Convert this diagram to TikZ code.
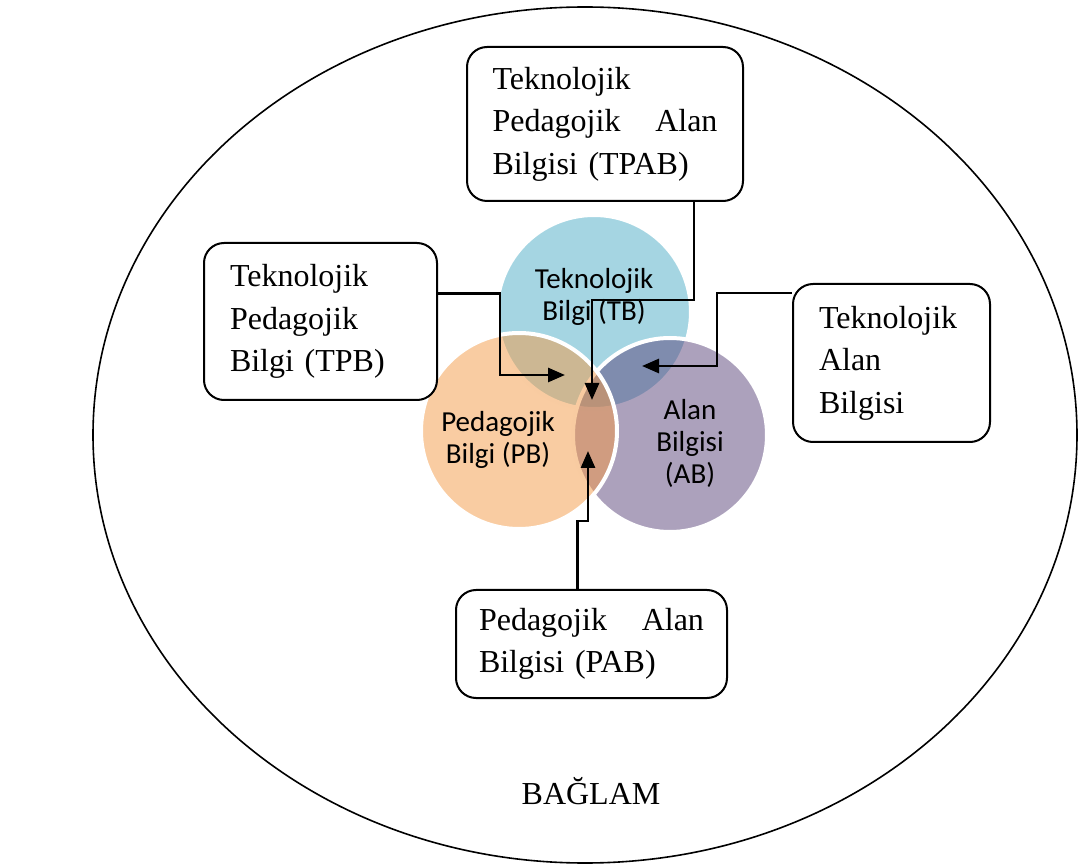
\documentclass[tikz,border=0pt]{standalone}
\usepackage{fontspec}
\setmainfont{Liberation Serif}
\newfontfamily\venfont{Carlito}
\usetikzlibrary{arrows.meta}

\definecolor{tbcol}{RGB}{75,172,198}
\definecolor{abcol}{RGB}{90,68,122}
\definecolor{pbcol}{RGB}{243,153,69}

\begin{document}
\begin{tikzpicture}[x=0.5pt,y=-0.5pt,
   venn/.style={circle,draw=white,line width=2pt,fill opacity=0.5,
    minimum size=97pt,inner sep=0pt},
   lbl/.style={align=center,font=\venfont\fontsize{14.5}{16}\selectfont},
   box/.style={rectangle,rounded corners=10pt,draw,line width=1pt,fill=white,
    align=left,inner sep=0pt,font=\fontsize{16}{21.25}\selectfont},
   conn/.style={line width=1.4pt,-{Triangle[length=8.5pt,width=7pt]}}
   ]
  \useasboundingbox (0,0) rectangle (1078,866);

  % -- context
  \draw[line width=0.8pt] (585,435) ellipse [x radius=246pt,y radius=214pt];

  % -- circles
  \node[venn,fill=tbcol] at (594,312) (tb) {};
  \node[venn,fill=abcol] at (670,435) (ab) {};
  \node[venn,fill=pbcol,minimum size=98pt] at (519,431) (pb) {};

  % -- circle labels
  \node[lbl] at (594,297) (tbtext) {Teknolojik\\Bilgi (TB)};
  \node[lbl] at (498,440) (pbtext) {Pedagojik\\Bilgi (PB)};
  \node[lbl] at (690,443) (abtext) {Alan\\Bilgisi\\(AB)};

  % -- boxes
  \node[box,minimum width=138pt,minimum height=77pt,text width=112.5pt] at (605,124) (tpab)
    {Teknolojik\\ Pedagojik\hfill Alan\\ Bilgisi (TPAB)};
  \node[box,minimum width=116.5pt,minimum height=78.5pt,text width=90.5pt] at (320.5,321.5) (tpb)
    {Teknolojik\\ Pedagojik\\ Bilgi (TPB)};
  \node[box,minimum width=98.5pt,minimum height=79pt,text width=72.5pt] at (891.5,363) (ta)
    {Teknolojik\\ Alan\\ Bilgisi};
  \node[box,minimum width=135.5pt,minimum height=54pt,text width=112.5pt] at (591.5,644) (pab)
    {Pedagojik\hfill Alan\\ Bilgisi (PAB)};

  \node[font=\fontsize{16}{19}\selectfont,anchor=base] at (591,805) (baglam) {BAĞLAM};

  % -- arrows
  \coordinate (tpabbend) at (592,300);
  \coordinate (tpabtip) at (592,400);
  \draw[conn] ([xshift=-25pt]tpab.south east) |- (tpabbend) -- (tpabtip);

  \coordinate (tpbbend) at (500,375);
  \coordinate (tpbtip) at (565,375);
  \draw[conn] ([yshift=14pt]tpb.east) -| (tpbbend) -- (tpbtip);

  \coordinate (tabend) at (717,366);
  \coordinate (tatip) at (642,366);
  \draw[conn] ([yshift=35pt]ta.west) -| (tabend) -- (tatip);

  \coordinate (pabbend) at (588,521);
  \coordinate (pabtip) at (588,451);
  \draw[conn] ([xshift=-7pt]pab.north) |- (pabbend) -- (pabtip);
\end{tikzpicture}
\end{document}
